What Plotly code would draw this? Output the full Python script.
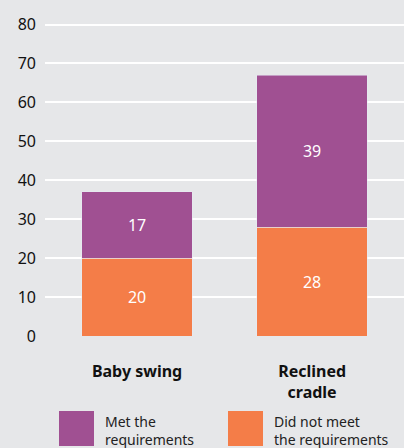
import plotly.graph_objects as go

# data
categories = ['Baby swing', 'Reclined<br>cradle']
met = [17, 39]
not_met = [20, 28]
series_names = ['Met the<br>requirements', 'Did not meet<br>the requirements']
purple = '#a05092'
orange = '#f47d48'
bg = '#e6e7e9'

W, H = 404, 448
L, R, T, B = 45, 0, 23, 112
pw, ph = W - L - R, H - T - B


def px(x):
    return (x - L) / pw


def py(y):
    return (H - B - y) / ph


fig = go.Figure()
fig.add_trace(go.Bar(x=categories, y=not_met, name=series_names[1], marker_color=orange,
    text=not_met, textposition='inside', insidetextanchor='middle',
    textfont={'color': 'white', 'size': 16}))
fig.add_trace(go.Bar(x=categories, y=met, name=series_names[0], marker_color=purple,
    text=met, textposition='inside', insidetextanchor='middle',
    textfont={'color': 'white', 'size': 16}))

# custom legend: big swatches + two-line labels
legend_items = [(series_names[0], purple, 59, 103), (series_names[1], orange, 228, 272)]
for name, col, sx, tx in legend_items:
    fig.add_shape(type='rect', xref='paper', yref='paper',
        x0=px(sx), x1=px(sx + 35), y0=py(446), y1=py(411),
        fillcolor=col, line={'width': 0})
    fig.add_annotation(xref='paper', yref='paper', x=px(tx), y=py(430),
        xanchor='left', yanchor='middle', align='left', showarrow=False,
        text=name, font={'size': 14, 'color': '#222'})

fig.update_layout(
    width=W, height=H, barmode='stack', bargap=0.37, showlegend=False,
    paper_bgcolor=bg, plot_bgcolor=bg,
    font={'family': 'Noto Sans, sans-serif', 'color': '#1a1a1a'},
    margin={'l': L, 'r': R, 't': T, 'b': B},
    xaxis={'range': [-0.526, 1.525], 'showgrid': False, 'showline': False,
           'ticks': '', 'ticklabelstandoff': 24,
           'tickfont': {'size': 16, 'color': '#111', 'weight': 'bold'}},
    yaxis={'range': [0, 80.4], 'dtick': 10, 'showgrid': True, 'gridcolor': 'white',
           'gridwidth': 1.5, 'zeroline': False, 'ticks': '', 'ticklabelstandoff': 8,
           'tickfont': {'size': 16, 'color': '#111'}},
)

fig.write_html('out.html', config={'displayModeBar': False},
               post_script="document.body.style.margin='0';")
